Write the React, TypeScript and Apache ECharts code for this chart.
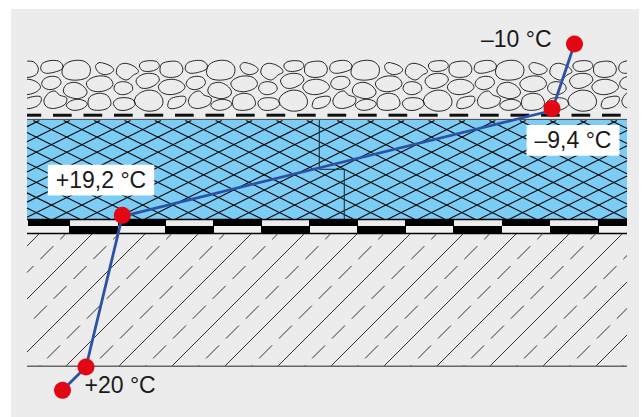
import React, { useEffect, useRef } from "react";
import * as echarts from "echarts";

const WIDTH = 643;
const HEIGHT = 417;

// temperature profile through the roof build-up
const profileX = [574.5, 552, 122.3, 86, 62.5];
const profileY = [44, 110.5, 216.3, 367, 390.3];
const markerX = [574.5, 552, 122.3, 86, 62.5];
const markerY = [44, 108.5, 215.3, 367, 390.3];
const profileLabels = ["–10 °C", "–9,4 °C", "+19,2 °C", "+20 °C", ""];

// layer bands [x0, y0, x1, y1]
const panelBand = [[11, 9, 639, 417]];
const insulationBand = [[27, 120, 627, 219]];
const membraneTop = [28, 70, 118, 166, 213, 262, 309, 358, 405, 454, 502, 550, 598, 627];
const membraneBottom = [27, 69, 118, 165, 214, 261, 310, 357, 406, 453, 502, 550, 599, 627];
const stepLine = [[319.3, 120, 319.3, 169.3], [319.3, 169.3, 344.3, 169.3], [344.3, 169.3, 344.3, 219]];
const ruleLines = [[27, 219.5, 627, 219.5], [27, 233.5, 627, 233.5]];
const baseLine = [[27, 366.3, 627, 366.3]];
const greyLine = [[27, 119.4, 627, 119.4]];

// one repeat of the gravel, traced points (thirds of a pixel)
const stones: number[][][] = [
  [[122,205],[128,190],[150,182],[175,183],[188,195],[186,207],[165,216],[140,220],[127,215]],
  [[186,213],[195,193],[220,182],[250,183],[268,197],[271,215],[262,232],[235,240],[205,238],[190,228]],
  [[287,197],[297,188],[312,190],[330,197],[341,208],[335,218],[315,224],[297,218],[289,208]],
  [[349,218],[355,198],[372,190],[395,195],[412,207],[415,217],[400,225],[390,235],[378,240],[360,232]],
  [[418,198],[425,187],[448,182],[470,185],[478,197],[470,208],[450,214],[428,212]],
  [[480,213],[485,192],[510,184],[535,186],[548,203],[545,220],[530,230],[505,232],[488,226]],
  [[125,250],[135,235],[155,229],[175,233],[183,248],[172,262],[150,269],[132,263]],
  [[190,270],[200,253],[225,247],[248,257],[261,275],[255,288],[232,296],[205,290],[194,282]],
  [[259,252],[268,238],[295,228],[325,232],[339,250],[330,265],[300,275],[272,270]],
  [[342,265],[350,250],[370,245],[392,252],[398,268],[385,280],[365,284],[350,278]],
  [[408,243],[420,227],[445,220],[470,225],[478,240],[465,255],[440,265],[420,262]],
  [[475,260],[490,243],[520,238],[545,247],[555,262],[540,277],[510,284],[485,277]],
  [[132,300],[145,280],[165,273],[178,285],[200,294],[195,313],[165,325],[145,323],[135,315]],
  [[199,315],[212,303],[235,298],[258,305],[261,315],[245,327],[222,331],[205,325]],
  [[264,308],[270,290],[295,280],[320,285],[331,300],[332,315],[318,327],[290,331],[270,325]],
  [[340,310],[350,297],[372,293],[395,297],[406,310],[398,322],[375,331],[352,328]],
  [[403,305],[412,285],[440,271],[470,275],[487,295],[487,315],[470,330],[440,333],[415,322]],
  [[503,317],[510,298],[532,290],[555,290],[557,303],[545,318],[520,326],[507,324]],
];

function clipSegment(x1: number, y1: number, x2: number, y2: number, r: number[]) {
  let t0 = 0, t1 = 1;
  const dx = x2 - x1, dy = y2 - y1;
  const tests: number[][] = [[-dx, x1 - r[0]], [dx, r[2] - x1], [-dy, y1 - r[1]], [dy, r[3] - y1]];
  for (const [p, q] of tests) {
    if (p === 0) { if (q < 0) return null; continue; }
    const t = q / p;
    if (p < 0) { if (t > t1) return null; if (t > t0) t0 = t; }
    else { if (t < t0) return null; if (t < t1) t1 = t; }
  }
  return [x1 + t0 * dx, y1 + t0 * dy, x1 + t1 * dx, y1 + t1 * dy];
}

function meshSegments() {
  const area = [27, 120.5, 627, 219];
  const P = 30.4, H = 15.1, vx = 36.3, vy = 122;
  const m = H / P;
  const out: number[][] = [];
  for (let k = -60; k <= 60; k++) {
    for (const s of [1, -1]) {
      const c = vy - s * m * vx + k * H;
      const seg = clipSegment(0, c, WIDTH, c + s * m * WIDTH, area);
      if (seg) out.push(seg);
    }
  }
  return out;
}

function hatchSegments() {
  const area = [27, 234, 627, 366];
  const solid: number[][] = [];
  const dashed: number[][] = [];
  for (let k = -10; k <= 12; k++) {
    const c = 697 + 53 * (k - 2);
    const long = clipSegment(c - 234, 234, c - 366, 366, area);
    if (long) solid.push(long);
    const d = c - 26.5;
    for (let j = 0; j < 8; j++) {
      const yb = 239.3 + 19.85 * j;
      const part = clipSegment(d - yb, yb, d - yb + 13, yb - 13, area);
      if (part) dashed.push(part);
    }
  }
  return { solid, dashed };
}

function segSeries(name: string, data: number[][], color: string, width: number, z: number) {
  return {
    type: "custom", name, z, silent: true, data, coordinateSystem: "cartesian2d",
    encode: { x: [0, 2], y: [1, 3] },
    renderItem: (_p: any, api: any) => {
      const a = api.coord([api.value(0), api.value(1)]);
      const b = api.coord([api.value(2), api.value(3)]);
      return { type: "line", shape: { x1: a[0], y1: a[1], x2: b[0], y2: b[1] }, style: { stroke: color, lineWidth: width, fill: "none" } };
    },
  };
}

function rectSeries(name: string, data: number[][], color: string, z: number) {
  return {
    type: "custom", name, z, silent: true, data, coordinateSystem: "cartesian2d",
    encode: { x: [0, 2], y: [1, 3] },
    renderItem: (_p: any, api: any) => {
      const a = api.coord([api.value(0), api.value(1)]);
      const b = api.coord([api.value(2), api.value(3)]);
      return { type: "rect", shape: { x: a[0], y: a[1], width: b[0] - a[0], height: b[1] - a[1] }, style: { fill: color } };
    },
  };
}

function blocks(edges: number[], y0: number, y1: number, first: number) {
  const out: number[][] = [];
  for (let i = first; i < edges.length - 1; i += 2) out.push([edges[i], y0, edges[i + 1], y1]);
  return out;
}

function dashRects() {
  const out: number[][] = [];
  for (let k = -1; k <= 19; k++) {
    const x0 = Math.max(27, 53 + 30.5 * k);
    const x1 = Math.min(627, 53 + 30.5 * k + 18.7);
    if (x1 > x0) out.push([x0, 113.7, x1, 116.7]);
  }
  return out;
}

export default function App() {
  const ref = useRef<HTMLDivElement>(null);
  useEffect(() => {
    const chart = echarts.init(ref.current!, undefined, { renderer: "svg" });
    const { solid, dashed } = hatchSegments();
    const stoneRows: number[][] = [];
    for (let t = -1; t <= 4; t++) stones.forEach((_s, i) => stoneRows.push([t, i]));

    const font = { fontFamily: "'Liberation Sans', Arial, sans-serif", fontSize: 23, color: "#1a1a1a", lineHeight: 30.7 };
    const boxed = { ...font, backgroundColor: "#ffffff", padding: [0, 8, 0, 8] };
    const labelSpec: any[] = [
      { ...font, position: [-85, -12] },
      { ...boxed, position: [-17, 25] },
      { ...boxed, position: [-66, -42] },
      { ...font, position: [7, 11] },
      { show: false },
    ];

    chart.setOption({
      animation: false,
      backgroundColor: "#ffffff",
      grid: { left: 0, right: 0, top: 0, bottom: 0 },
      xAxis: { type: "value", min: 0, max: WIDTH, show: false },
      yAxis: { type: "value", min: 0, max: HEIGHT, inverse: true, show: false },
      series: [
        rectSeries("panel", panelBand, "#ececec", 1),
        rectSeries("insulation", insulationBand, "#7ccdf6", 2),
        segSeries("mesh", meshSegments(), "#0c0c0c", 1.15, 3),
        segSeries("step", stepLine, "#17323f", 1.1, 4),
        {
          type: "custom", name: "gravel", z: 5, silent: true, data: stoneRows,
          coordinateSystem: "cartesian2d", encode: { x: 0, y: 1 },
          renderItem: (_p: any, api: any) => {
            const t = api.value(0);
            const pts = stones[api.value(1)].map(([x, y]) =>
              api.coord([x / 3 + t * 144.5, y / 3]));
            return { type: "polygon", shape: { points: pts, smooth: 0.33 }, style: { fill: "none", stroke: "#1a1a1a", lineWidth: 0.95 } };
          },
        },
        rectSeries("margins", [[11, 50, 27, 118], [627, 50, 639, 118]], "#ececec", 6),
        rectSeries("outside", [[639, 50, 643, 118], [0, 50, 11, 118]], "#ffffff", 6),
        rectSeries("separator", dashRects(), "#111111", 7),
        segSeries("separatorLine", greyLine, "#444444", 1, 7),
        rectSeries("membraneTop", blocks(membraneTop, 219, 226, 0), "#000000", 7),
        rectSeries("membraneBottom", [[27, 226, 627, 233]], "#f0f0f0", 7),
        rectSeries("membraneBottomBlack", blocks(membraneBottom, 226, 233, 1), "#000000", 8),
        segSeries("rules", ruleLines, "#000000", 1.3, 8),
        segSeries("hatch", solid, "#333333", 1.0, 8),
        segSeries("hatchDash", dashed, "#333333", 1.0, 8),
        segSeries("base", baseLine, "#666666", 1.6, 9),
        {
          type: "line", name: "temperature", z: 20, silent: true, symbol: "none",
          lineStyle: { color: "#2a52a5", width: 2.8 },
          data: profileX.map((x, i) => [x, profileY[i]]),
        },
        {
          type: "scatter", name: "points", z: 21, silent: true,
          symbol: "circle", symbolSize: 17,
          itemStyle: { color: "#e30613", opacity: 1 },
          data: markerX.map((x, i) => ({
            value: [x, markerY[i]],
            label: { show: true, formatter: profileLabels[i], align: "left", verticalAlign: "top", ...labelSpec[i] },
          })),
        },
      ],
    });
    return () => chart.dispose();
  }, []);
  return <div ref={ref} style={{ position: "absolute", left: 0, top: 0, width: WIDTH, height: HEIGHT }} />;
}
